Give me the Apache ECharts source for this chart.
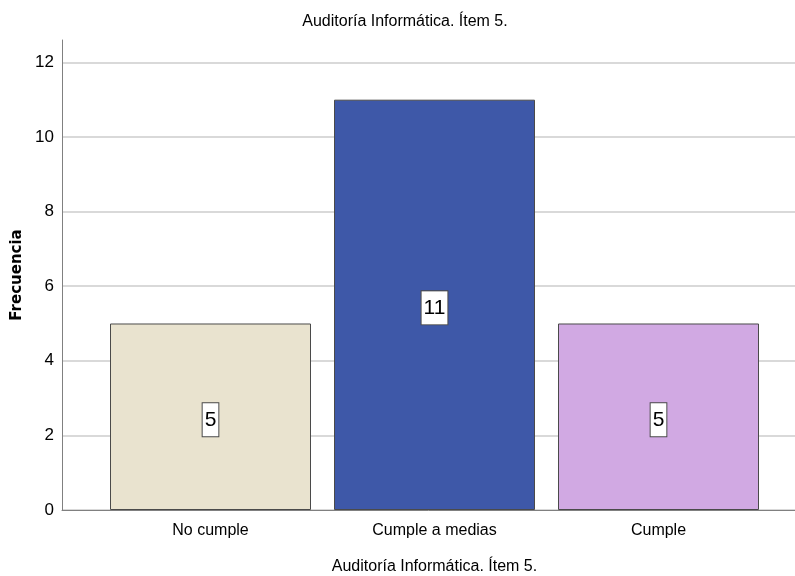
<!DOCTYPE html>
<html>
<head>
<meta charset="utf-8">
<script src="https://cdn.jsdelivr.net/npm/echarts@6/dist/echarts.min.js"></script>
<style>
  html, body { margin: 0; padding: 0; background: #fff; }
  #main { width: 795px; height: 576px; }
</style>
</head>
<body>
<div id="main"></div>
<script>
const categories = ['No cumple', 'Cumple a medias', 'Cumple']
const values = [5, 11, 5]
const barColors = ['#e9e3cf', '#3e58a8', '#d1a9e3']
const titleText = 'Auditoría Informática. Ítem 5.'
const yName = 'Frecuencia'

const font = '"Liberation Sans", Arial, sans-serif'
const chart = echarts.init(document.getElementById('main'))

chart.setOption({
  animation: false,
  title: {
    text: titleText,
    left: 405,
    top: 14,
    padding: 0,
    textAlign: 'center',
    textStyle: { fontFamily: font, fontSize: 16, fontWeight: 'normal', color: '#000' }
  },
  grid: [
    // 轴线和网格线
    { left: 62, right: 0, top: 40, bottom: 66, outerBoundsMode: 'none', containLabel: false },
    // 柱子
    { left: 98.5, width: 672, top: 40, bottom: 66, outerBoundsMode: 'none', containLabel: false }
  ],
  xAxis: [
    {
      gridIndex: 0,
      type: 'value',
      min: 0,
      max: 1,
      axisLine: { show: true, onZero: false, lineStyle: { color: '#808080', width: 1 } },
      axisTick: { show: false },
      axisLabel: { show: false },
      splitLine: { show: false }
    },
    {
      gridIndex: 1,
      type: 'category',
      data: categories,
      axisLine: { show: false },
      axisTick: { show: false },
      axisLabel: { fontFamily: font, fontSize: 16, color: '#000', margin: 13 },
      name: titleText,
      nameLocation: 'middle',
      nameGap: 49,
      nameTextStyle: { fontFamily: font, fontSize: 16, color: '#000' }
    }
  ],
  yAxis: [
    {
      gridIndex: 0,
      type: 'value',
      min: 0,
      max: 12.6,
      interval: 2,
      axisLine: { show: true, lineStyle: { color: '#808080', width: 1 } },
      axisTick: { show: false },
      axisLabel: { fontFamily: font, fontSize: 17, color: '#000', margin: 8, showMaxLabel: false },
      splitLine: {
        show: true,
        lineStyle: {
          color: ['#d9d9d9', '#d9d9d9', '#d9d9d9', '#d9d9d9', '#d9d9d9', '#d9d9d9', '#d9d9d9', 'rgba(0,0,0,0)'],
          width: 2
        }
      },
      name: yName,
      nameLocation: 'middle',
      nameGap: 37,
      nameTextStyle: { fontFamily: '"DejaVu Sans", sans-serif', fontSize: 15, fontWeight: 'bold', color: '#000' }
    },
    {
      gridIndex: 1,
      type: 'value',
      min: 0,
      max: 12.6,
      show: false
    }
  ],
  series: [
    {
      type: 'bar',
      xAxisIndex: 1,
      yAxisIndex: 1,
      barWidth: 201,
      data: values.map((v, i) => ({
        value: v,
        itemStyle: { color: barColors[i] }
      })),
      itemStyle: { borderColor: '#4a4a4a', borderWidth: 1 },
      label: {
        show: true,
        position: 'inside',
        offset: [0, 3],
        fontFamily: font,
        fontSize: 21,
        lineHeight: 23,
        color: '#000',
        backgroundColor: '#fff',
        borderColor: '#4a4a4a',
        borderWidth: 1,
        padding: [6, 2, 4, 2]
      }
    }
  ]
})
</script>
</body>
</html>
